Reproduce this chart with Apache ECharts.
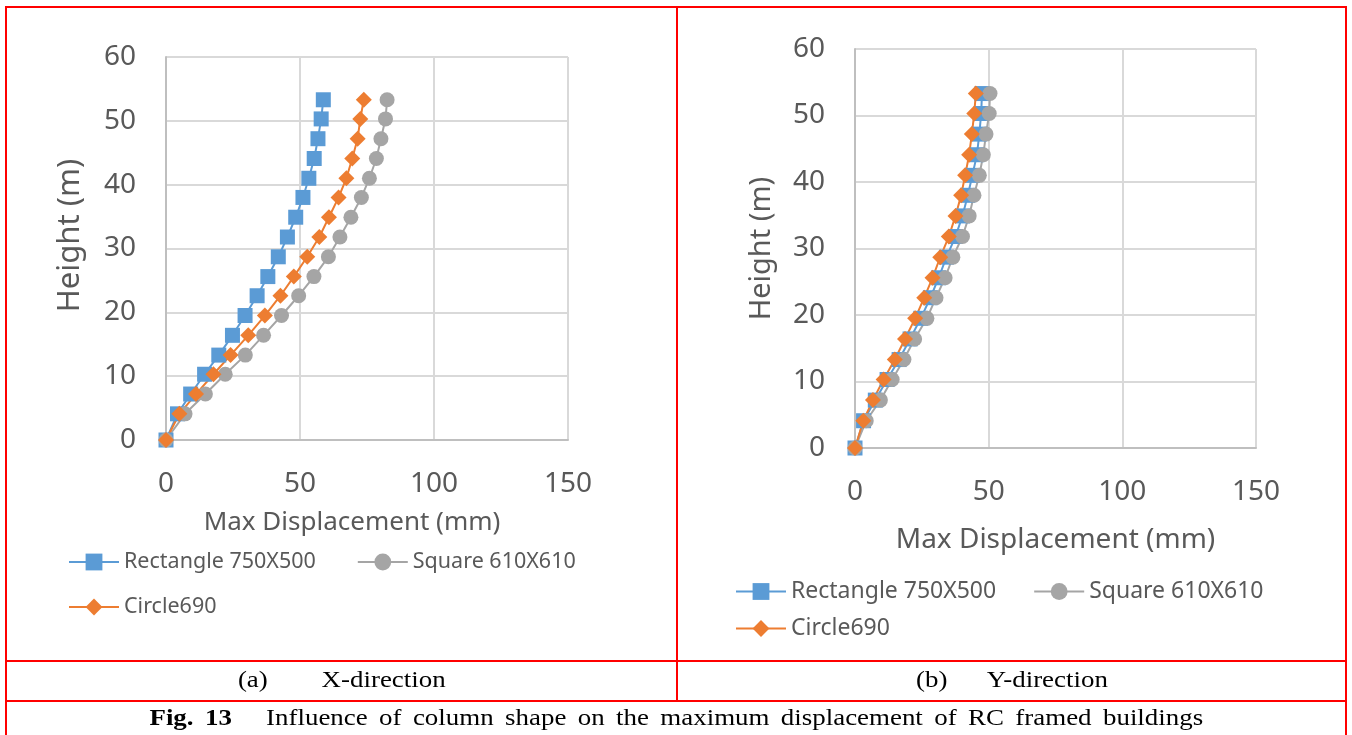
<!DOCTYPE html>
<html>
<head>
<meta charset="utf-8">
<script src="https://cdn.jsdelivr.net/npm/echarts@6/dist/echarts.min.js"></script>
<style>
  html, body { margin: 0; padding: 0; background: #fff; }
  #wrap { position: relative; width: 1352px; height: 735px; overflow: hidden; }
  #chart { position: absolute; left: 0; top: 0; width: 1352px; height: 735px; }
  .ln { position: absolute; background: #FF0000; }
  .cap { position: absolute; font-family: "Liberation Serif", "Times New Roman", serif; font-size: 23px; color: #000; white-space: pre; text-align: center; }
  .cap span { display: inline-block; transform: scaleX(1.17); transform-origin: center; }
</style>
</head>
<body>
<div id="wrap">
  <div id="chart"></div>
  <div class="ln" style="left:5px;top:6px;width:1342px;height:2px;"></div>
  <div class="ln" style="left:5px;top:6px;width:2px;height:735px;"></div>
  <div class="ln" style="left:1345px;top:6px;width:2px;height:735px;"></div>
  <div class="ln" style="left:676px;top:6px;width:2px;height:696px;"></div>
  <div class="ln" style="left:5px;top:660px;width:1342px;height:2px;"></div>
  <div class="ln" style="left:5px;top:700px;width:1342px;height:2px;"></div>
  <div class="cap" style="left:7px;top:667px;width:669px;"><span>(a)        X-direction</span></div>
  <div class="cap" style="left:678px;top:667px;width:667px;"><span>(b)      Y-direction</span></div>
  <div class="cap" style="left:7px;top:705px;width:1338px;word-spacing:4px;"><span><b>Fig. 13</b>   Influence of column shape on the maximum displacement of RC framed buildings</span></div>
</div>
<script>
// Storey heights (m)
const heights = [0, 4.1, 7.2, 10.3, 13.3, 16.4, 19.5, 22.6, 25.6, 28.7, 31.8, 34.9, 38.0, 41.0, 44.1, 47.2, 50.3, 53.3];

// (a) X-direction max displacement (mm)
const xRect   = [0, 4.3, 9.2, 14.4, 19.7, 24.8, 29.5, 34.0, 38.0, 41.9, 45.3, 48.4, 51.1, 53.3, 55.3, 56.7, 57.9, 58.7];
const xSquare = [0, 7.1, 14.7, 22.1, 29.6, 36.4, 43.1, 49.5, 55.2, 60.6, 64.9, 69.0, 72.9, 75.9, 78.5, 80.2, 81.9, 82.5];
const xCircle = [0, 5.0, 11.2, 17.7, 24.1, 30.7, 36.9, 42.7, 47.7, 52.7, 57.2, 60.8, 64.4, 67.3, 69.5, 71.5, 72.5, 73.8];

// (b) Y-direction max displacement (mm)
const yRect   = [0, 3.2, 7.6, 12.0, 16.5, 20.6, 24.6, 28.2, 31.3, 34.2, 37.6, 40.2, 42.2, 43.9, 45.6, 46.5, 47.2, 47.5];
const ySquare = [0, 4.2, 9.5, 13.9, 18.3, 22.3, 26.9, 30.3, 33.7, 36.6, 40.2, 42.7, 44.5, 46.5, 48.0, 49.0, 50.2, 50.5];
const yCircle = [0, 3.1, 6.7, 10.7, 14.9, 18.7, 22.5, 25.9, 29.0, 31.9, 35.1, 37.6, 39.7, 41.2, 42.7, 43.7, 44.6, 45.2];

const seriesNames = ['Rectangle 750X500', 'Square 610X610', 'Circle690'];
const xTickLabels = ['0', '50', '100', '150'];
const yTickLabels = ['0', '10', '20', '30', '40', '50', '60'];
const xTitle = 'Max Displacement (mm)';
const yTitle = 'Height (m)';

const FONT = '"Noto Sans", "Open Sans", sans-serif';
const LABEL = '#595959';
const colors = ['#5B9BD5', '#A5A5A5', '#ED7D31'];
const symbols = ['rect', 'circle', 'diamond'];
const symSizes = [15, 15, 16];

function pairs(xs) { return xs.map((v, i) => [v, heights[i]]); }

function xAxisDef(gi, nameSize, nameGap, namePad) {
  return {
    gridIndex: gi, type: 'value', min: 0, max: 150, interval: 50,
    name: xTitle, nameLocation: 'middle', nameGap: nameGap,
    nameTextStyle: { fontFamily: FONT, fontSize: nameSize, color: LABEL, padding: namePad },
    axisLine: { show: true, onZero: false, lineStyle: { color: '#BFBFBF', width: 2 } },
    axisTick: { show: false },
    axisLabel: { fontFamily: FONT, fontSize: 28, color: LABEL, margin: 30,
      formatter: v => xTickLabels[Math.round(v / 50)] },
    splitLine: { show: true, lineStyle: { color: '#D9D9D9', width: 2 } }
  };
}
function yAxisDef(gi, nameSize, nameGap, namePad) {
  return {
    gridIndex: gi, type: 'value', min: 0, max: 60, interval: 10,
    name: yTitle, nameLocation: 'middle', nameGap: nameGap, nameRotate: 90,
    nameTextStyle: { fontFamily: FONT, fontSize: nameSize, color: LABEL, padding: namePad },
    axisLine: { show: true, onZero: false, lineStyle: { color: '#BFBFBF', width: 2 } },
    axisTick: { show: false },
    axisLabel: { fontFamily: FONT, fontSize: 28, color: LABEL, margin: 30,
      formatter: v => yTickLabels[Math.round(v / 10)] },
    splitLine: { show: true, lineStyle: { color: '#D9D9D9', width: 2 } }
  };
}

const dataSets = [[xRect, xSquare, xCircle], [yRect, ySquare, yCircle]];
const series = [];
dataSets.forEach((set, gi) => {
  set.forEach((arr, si) => {
    series.push({
      name: seriesNames[si], type: 'line', xAxisIndex: gi, yAxisIndex: gi,
      data: pairs(arr), symbol: symbols[si], symbolSize: symSizes[si],
      showAllSymbol: true, animation: false,
      lineStyle: { color: colors[si], width: 2 },
      itemStyle: { color: colors[si], borderWidth: 0 }
    });
  });
});

function legendDef(left, top, data, fontSize, gap) {
  return {
    left: left, top: top, orient: 'horizontal', data: data, padding: 0,
    itemWidth: 50, itemHeight: 21, itemGap: gap,
    textStyle: { fontFamily: FONT, fontSize: fontSize, color: LABEL }
  };
}

const chart = echarts.init(document.getElementById('chart'), null, { renderer: 'canvas' });
chart.setOption({
  animation: false,
  color: colors,
  grid: [
    { left: 166, top: 57, width: 402, height: 383, containLabel: false },
    { left: 855, top: 49, width: 401, height: 399, containLabel: false }
  ],
  xAxis: [xAxisDef(0, 26, 70, [0, 30, 0, 0]), xAxisDef(1, 28, 78, 0)],
  yAxis: [yAxisDef(0, 31, 80, [0, 0, 0, 26]), yAxisDef(1, 29, 79, 0)],
  legend: [
    legendDef(68, 551, seriesNames.slice(0, 2), 21.5, 41),
    legendDef(68, 596, seriesNames.slice(2), 21.5, 41),
    legendDef(735, 580, seriesNames.slice(0, 2), 23, 37),
    legendDef(735, 617, seriesNames.slice(2), 23, 37)
  ],
  series: series
});
</script>
</body>
</html>
